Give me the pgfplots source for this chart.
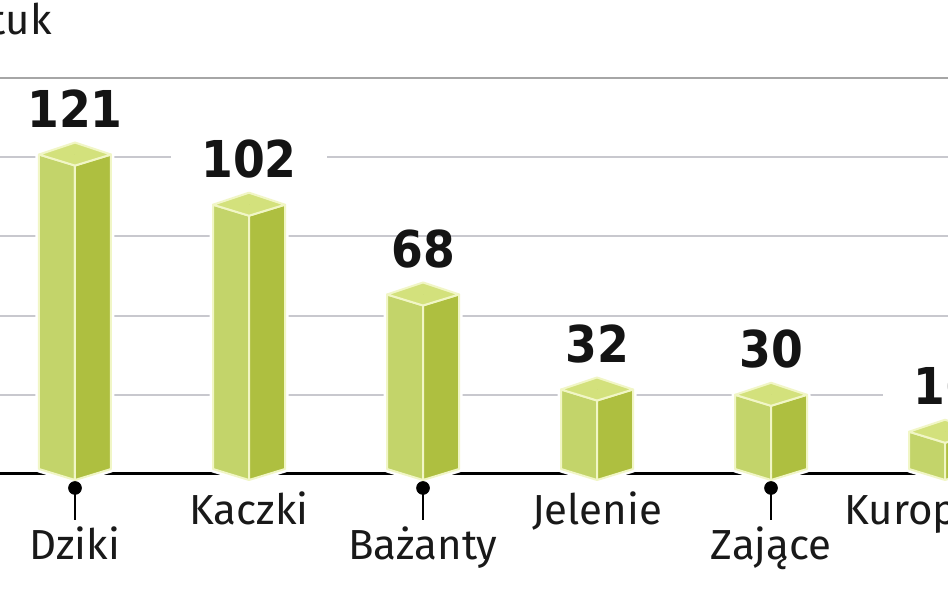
\documentclass[border=0pt]{standalone}
\usepackage{pgfplots}
\usepackage{pgfplotstable}
\pgfplotsset{compat=1.18}
\usepackage{fontspec}
\setmainfont{Fira Sans}
\newfontfamily\numfont[FakeStretch=0.9]{DejaVu Sans Bold}

\definecolor{topf}{HTML}{D3E17C}
\definecolor{leftf}{HTML}{C3D46A}
\definecolor{rightf}{HTML}{AEBF40}
\definecolor{edge}{HTML}{F1F6C6}
\definecolor{gridc}{HTML}{C8C8CE}

% tys. sztuk
\pgfplotstableread{
x y
0 121
1 102
2 68
3 32
4 30
5 16
}\dane

\begin{document}
\begin{tikzpicture}
\useasboundingbox (0,0) rectangle (474pt,296.5pt);
\clip (0,0) rectangle (474pt,296.5pt);
\begin{axis}[
  at={(0pt,59.5pt)}, anchor=south west,
  scale only axis, width=474pt, height=198pt,
  xmin=-0.431, xmax=5.017, ymin=0, ymax=150,
  axis line style={draw=none}, tick style={draw=none},
  xtick=\empty, ytick={30,60,90,120,150}, yticklabels={},
  ymajorgrids, major grid style={gridc, line width=1pt},
  extra y ticks={0}, extra y tick labels={},
  extra y tick style={major grid style={black, line width=1.5pt}},
  /pgf/number format/assume math mode=true,
  clip=false,
]
% gorna linia
\draw[color=black!35, line width=1.3pt] (rel axis cs:0,1) -- (rel axis cs:1,1);

% slupki
\addplot[scatter, only marks, mark=*, mark size=0pt,
  visualization depends on={\thisrow{y} \as \val},
  scatter/@pre marker code/.code={
    \pgfmathsetmacro\hc{2.5-\val*1.32}
    \pgfmathsetmacro\hb{-3-\val*1.32}
    \path[draw=white, line width=3.5pt, line join=round]
      (-18pt,0pt) -- (0pt,6pt) -- (18pt,0pt) -- (18pt,\hc pt) -- (0pt,\hb pt) -- (-18pt,\hc pt) -- cycle;
    \path[fill=leftf, draw=edge, line width=1pt, line join=round]
      (-18pt,0pt) -- (0pt,-5.5pt) -- (0pt,\hb pt) -- (-18pt,\hc pt) -- cycle;
    \path[fill=rightf, draw=edge, line width=1pt, line join=round]
      (18pt,0pt) -- (0pt,-5.5pt) -- (0pt,\hb pt) -- (18pt,\hc pt) -- cycle;
    \path[fill=topf, draw=edge, line width=1pt, line join=round]
      (-18pt,0pt) -- (0pt,6pt) -- (18pt,0pt) -- (0pt,-5.5pt) -- cycle;
  },
  scatter/@post marker code/.code={},
] table[x=x, y=y] {\dane};

% wartosci
\addplot[only marks, mark=none, point meta=\thisrow{y}, nodes near coords,
  every node near coord/.append style={anchor=base, yshift=13.5pt,
    font=\numfont\fontsize{25.4}{26}\selectfont, text=black!92, fill=white,
    inner xsep=15pt, inner ysep=0pt, text height=15pt, text depth=2pt},
] table[x=x, y=y] {\dane};

% szpilki
\addplot[scatter, only marks, mark=*, mark size=0pt,
  scatter/@pre marker code/.code={
    \fill[black] (0pt,-7pt) circle (3.2pt);
    \draw[black, line width=0.8pt] (0pt,-7pt) -- (0pt,-23pt);
  },
  scatter/@post marker code/.code={},
] coordinates {(0,0) (2,0) (4,0)};

% podpisy dolne
\addplot[only marks, mark=none,
  point meta=explicit symbolic, nodes near coords,
  every node near coord/.append style={anchor=base, yshift=-43pt,
    font=\fontsize{21}{21}\selectfont, text=black!90, inner sep=0pt},
] table[meta=label] {
x y label
0 0 Dziki
2 0 Bażanty
4 0 Zające
};

% podpisy gorne
\addplot[only marks, mark=none,
  point meta=explicit symbolic, nodes near coords,
  every node near coord/.append style={anchor=base, yshift=-25.5pt,
    font=\fontsize{21}{21}\selectfont, text=black!90, inner sep=0pt},
] table[meta=label] {
x y label
1 0 Kaczki
3 0 Jelenie
5 0 Kuropatwy
};
\end{axis}
\node[anchor=base east, inner sep=0pt, font=\fontsize{21}{21}\selectfont, text=black!90]
  at (26pt,279pt) {tys. sztuk};
\end{tikzpicture}
\end{document}
